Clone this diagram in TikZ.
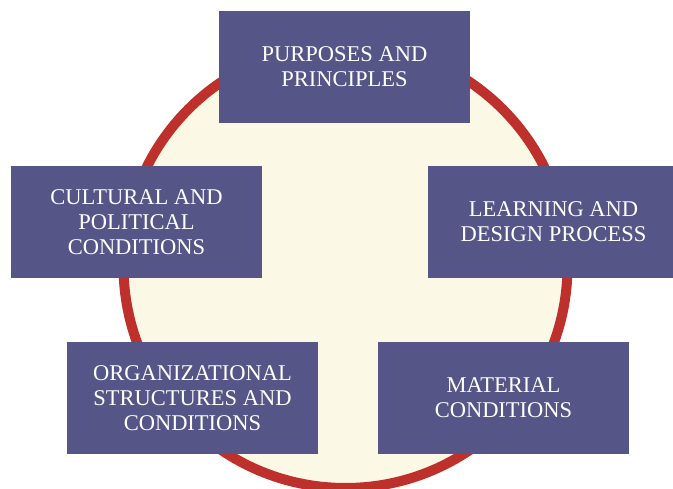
\documentclass[tikz,border=0pt]{standalone}
\usepackage{fontspec}
\setmainfont{Liberation Serif}

\definecolor{boxblue}{RGB}{85,85,135}
\definecolor{ringred}{RGB}{190,48,44}
\definecolor{cream}{RGB}{252,248,230}

\tikzset{
  topic/.style={rectangle, fill=boxblue, text=white, inner sep=0pt,
    minimum width=251pt, minimum height=112pt, align=center,
    font=\fontsize{22.5}{25}\selectfont}
}

\begin{document}
\begin{tikzpicture}[x=1pt, y=-1pt]

% Page size
\useasboundingbox (0,0) rectangle (673,488);
\clip (0,0) rectangle (673,488);

% Radius of the ring
\def\r{222pt}

% Center of ring
\coordinate (O) at (345.5,266);

% Draw the ring
\draw[line width=10pt, ringred, fill=cream] (O) circle (\r);

% Boxes round the ring
\node[topic] (purposes) at (344.5,67) {PURPOSES AND\\PRINCIPLES};
\node[topic] (cultural) at (136.5,222) {CULTURAL AND\\POLITICAL\\CONDITIONS};
\node[topic] (learning) at (553.5,222) {LEARNING AND\\DESIGN PROCESS};
\node[topic] (organizational) at (192.5,398) {ORGANIZATIONAL\\STRUCTURES AND\\CONDITIONS};
\node[topic] (material) at (503.5,398) {MATERIAL\\CONDITIONS};

\end{tikzpicture}
\end{document}
